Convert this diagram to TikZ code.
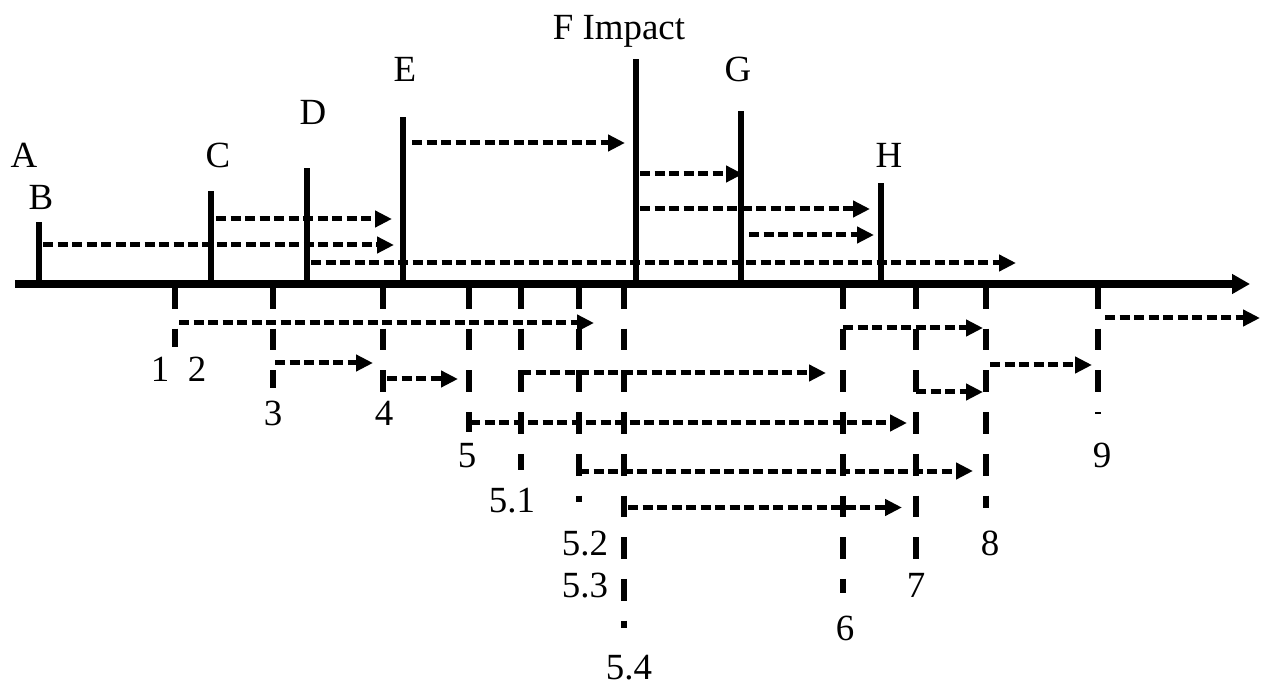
\documentclass[tikz,border=0pt]{standalone}
\usepackage{fontspec}
\setmainfont{Liberation Serif}
\usepackage{tikz}
\usetikzlibrary{arrows.meta}

\begin{document}
\begin{tikzpicture}[every node/.style={font=\fontsize{21}{25}\selectfont, inner sep=0pt, anchor=base},
        event/.style={line width=0.12cm},
        stage/.style={line width=0.11cm, dash pattern=on 0.434cm off 0.40cm},
        interval/.style={line width=0.10cm, dash pattern=on 0.2cm off 0.09cm, -{Triangle[length=0.34cm, width=0.32cm]}}]
            \useasboundingbox (0,-8.04) rectangle (25.24,5.68);
            % time axis
            \draw[line width=0.16cm, -{Triangle[length=0.36cm, width=0.38cm]}] (0.30,0) -- (25.0,0);
            % events above the axis
            \draw[event] (0.78,0) -- (0.78,1.24);
            \draw[event] (4.22,0) -- (4.22,1.86);
            \draw[event] (6.14,0) -- (6.14,2.32);
            \draw[event] (8.06,0) -- (8.06,3.34);
            \draw[event] (12.72,0) -- (12.72,4.50);
            \draw[event] (14.82,0) -- (14.82,3.46);
            \draw[event] (17.62,0) -- (17.62,2.02);
            \node (lA) at (0.48,2.32) {A};
            \node (lB) at (0.82,1.48) {B};
            \node (lC) at (4.36,2.32) {C};
            \node (lD) at (6.26,3.18) {D};
            \node (lE) at (8.10,4.04) {E};
            \node (lF) at (12.38,4.88) {F Impact};
            \node (lG) at (14.76,4.04) {G};
            \node (lH) at (17.78,2.32) {H};
            \draw[interval] (4.32,1.30) -- (7.84,1.30);
            \draw[interval] (0.86,0.78) -- (7.88,0.78);
            \draw[interval] (6.22,0.42) -- (20.32,0.42);
            \draw[interval] (8.24,2.82) -- (12.50,2.82);
            \draw[interval] (12.80,2.20) -- (14.86,2.20);
            \draw[interval] (12.80,1.50) -- (17.40,1.50);
            \draw[interval] (14.98,0.98) -- (17.48,0.98);
            % stages below the axis
            \draw[stage] (3.50,-0.06) -- (3.50,-1.26);
            \draw[stage] (5.46,-0.06) -- (5.46,-2.08);
            \draw[stage] (7.66,-0.06) -- (7.66,-2.18);
            \draw[stage] (9.38,-0.06) -- (9.38,-2.96);
            \draw[stage] (10.42,-0.06) -- (10.42,-3.72);
            \draw[stage] (11.58,-0.06) -- (11.58,-4.36);
            \draw[stage] (12.48,-0.06) -- (12.48,-6.88);
            \draw[stage] (16.86,-0.06) -- (16.86,-6.18);
            \draw[stage] (18.32,-0.06) -- (18.32,-5.56);
            \draw[stage] (19.72,-0.06) -- (19.72,-4.48);
            \draw[stage] (21.96,-0.06) -- (21.96,-2.60);
            \node (l1) at (3.20,-1.96) {1};
            \node (l2) at (3.94,-1.96) {2};
            \node (l3) at (5.46,-2.84) {3};
            \node (l4) at (7.68,-2.84) {4};
            \node (l5) at (9.34,-3.68) {5};
            \node (l51) at (10.24,-4.56) {5.1};
            \node (l52) at (11.70,-5.42) {5.2};
            \node (l53) at (11.70,-6.26) {5.3};
            \node (l54) at (12.58,-7.90) {5.4};
            \node (l6) at (16.90,-7.12) {6};
            \node (l7) at (18.32,-6.26) {7};
            \node (l8) at (19.80,-5.42) {8};
            \node (l9) at (22.04,-3.68) {9};
            \draw[interval] (3.58,-0.78) -- (11.88,-0.78);
            \draw[interval] (5.50,-1.58) -- (7.46,-1.58);
            \draw[interval] (7.74,-1.90) -- (9.16,-1.90);
            \draw[interval] (10.42,-1.78) -- (16.52,-1.78);
            \draw[interval] (9.40,-2.78) -- (18.14,-2.78);
            \draw[interval] (11.58,-3.74) -- (19.46,-3.74);
            \draw[interval] (12.56,-4.47) -- (18.04,-4.47);
            \draw[interval] (16.86,-0.88) -- (19.66,-0.88);
            \draw[interval] (18.32,-2.16) -- (19.66,-2.16);
            \draw[interval] (19.80,-1.62) -- (21.84,-1.62);
            \draw[interval] (22.10,-0.68) -- (25.20,-0.68);
        \end{tikzpicture}
\end{document}
